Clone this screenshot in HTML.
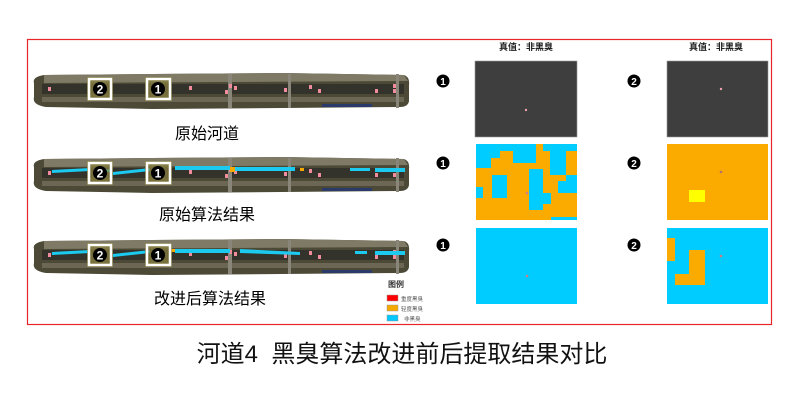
<!DOCTYPE html>
<html><head><meta charset="utf-8"><style>
html,body{margin:0;padding:0;background:#fff;width:800px;height:400px;overflow:hidden}
svg{display:block}
text{font-family:"Liberation Sans","Noto Sans CJK SC",sans-serif}
</style></head><body>
<svg width="800" height="400" viewBox="0 0 800 400" xmlns="http://www.w3.org/2000/svg">
<defs>
<g id="strip">
  <path d="M2,12 Q0,6 12,4 L120,3 L250,2 L372,4 Q378,6 377,14 L377,30 Q376,36 368,36 L250,37 L120,38 L14,36 Q0,34 2,26 Z" fill="#4c4a36"/>
  <path d="M12,4 L120,3 L250,2 L372,4 L376,10 L12,12 Z" fill="#7e7a66"/>
  <rect x="10" y="13" width="362" height="10" fill="#34332b"/>
  <rect x="10" y="26" width="362" height="5" fill="#6c6754"/>
  <rect x="196" y="3" width="4" height="34" fill="#8a8579"/>
  <rect x="256" y="3" width="3" height="34" fill="#8a8579"/>
  <rect x="364" y="3" width="3" height="34" fill="#8a8579"/>
  <rect x="290" y="33" width="50" height="3" fill="#2a3a6a"/>
  <g fill="#f08c9c">
    <rect x="16" y="16" width="3" height="4"/><rect x="157" y="15" width="3" height="4"/>
    <rect x="197" y="13" width="3" height="4"/><rect x="202" y="15" width="3" height="4"/>
    <rect x="193" y="19" width="3" height="4"/><rect x="252" y="17" width="3" height="4"/>
    <rect x="277" y="14" width="3" height="4"/><rect x="286" y="18" width="3" height="4"/>
    <rect x="343" y="18" width="3" height="4"/><rect x="361" y="13" width="3" height="4"/>
    <rect x="361" y="18" width="3" height="4"/>
  </g>
</g>
<g id="boxes">
  <rect x="55" y="6" width="26" height="24" fill="#8a8040" opacity="0.75"/>
  <rect x="57" y="8" width="22" height="20" fill="none" stroke="#fff" stroke-width="2.5"/>
  <rect x="113" y="6" width="27" height="24" fill="#8a8040" opacity="0.75"/>
  <rect x="115" y="8" width="23" height="20" fill="none" stroke="#fff" stroke-width="2.5"/>
  <circle cx="68" cy="18" r="7" fill="#000"/>
  <circle cx="126" cy="18" r="7" fill="#000"/>
  <text x="68" y="22.5" font-size="12" font-weight="bold" fill="#fff" text-anchor="middle">2</text>
  <text x="126" y="22.5" font-size="12" font-weight="bold" fill="#fff" text-anchor="middle">1</text>
</g>
</defs>

<rect x="27.5" y="39.5" width="744" height="285" fill="none" stroke="#e8262a" stroke-width="1.2"/>

<use href="#strip" x="32" y="71"/>
<use href="#boxes" x="32" y="71"/>
<text x="207" y="139" font-size="16" text-anchor="middle" fill="#000">原始河道</text>

<use href="#strip" x="32" y="155"/>
<g fill="#1ccaf0">
  <path d="M52,170 L90,168 L90,171 L52,173 Z"/>
  <rect x="102" y="169" width="8" height="3"/>
  <path d="M113,172 L150,168 L150,171 L113,175 Z"/>
  <rect x="175" y="166" width="55" height="4"/>
  <rect x="235" y="167" width="60" height="4"/>
  <rect x="350" y="168" width="20" height="3"/>
  <rect x="375" y="168" width="30" height="4"/>
</g>
<g fill="#f5a800"><rect x="230" y="167" width="5" height="5"/><rect x="300" y="168" width="4" height="3"/></g>
<use href="#boxes" x="32" y="155"/>
<text x="207" y="220" font-size="16" text-anchor="middle" fill="#000">原始算法结果</text>

<use href="#strip" x="32" y="237"/>
<g fill="#1ccaf0">
  <path d="M52,252 L90,250 L90,253 L52,255 Z"/>
  <path d="M113,254 L150,250 L150,253 L113,257 Z"/>
  <rect x="175" y="249" width="55" height="4"/>
  <path d="M240,249 L300,252 L300,255 L240,253 Z"/>
  <rect x="355" y="251" width="12" height="3"/>
  <rect x="375" y="251" width="30" height="4"/>
</g>
<g fill="#f5a800"><rect x="170" y="249" width="5" height="3"/></g>
<use href="#boxes" x="32" y="237"/>
<text x="210" y="304" font-size="16" text-anchor="middle" fill="#000">改进后算法结果</text>

<text x="396" y="287" font-size="8" font-weight="bold" text-anchor="middle" fill="#333">图例</text>
<rect x="387" y="295" width="11" height="6" fill="#f00" stroke="#999" stroke-width="0.5"/>
<rect x="387" y="305" width="11" height="6" fill="#f5a800" stroke="#999" stroke-width="0.5"/>
<rect x="387" y="315" width="11" height="6" fill="#00c8ff" stroke="#999" stroke-width="0.5"/>
<text x="401" y="301" font-size="5.5" fill="#555">重度黑臭</text>
<text x="401" y="311" font-size="5.5" fill="#555">轻度黑臭</text>
<text x="404" y="321" font-size="5.5" fill="#555">非黑臭</text>

<text x="526" y="50" font-size="9" font-weight="bold" text-anchor="middle" fill="#222">真值：非黑臭</text>
<text x="716" y="50" font-size="9" font-weight="bold" text-anchor="middle" fill="#222">真值：非黑臭</text>

<g fill="#000">
  <circle cx="443" cy="81" r="6.5"/><circle cx="443" cy="163" r="6.5"/><circle cx="443" cy="245" r="6.5"/>
  <circle cx="634" cy="81" r="6.5"/><circle cx="634" cy="163" r="6.5"/><circle cx="634" cy="245" r="6.5"/>
</g>
<g fill="#fff" font-size="10" font-weight="bold" text-anchor="middle">
  <text x="443" y="85">1</text><text x="443" y="167">1</text><text x="443" y="249">1</text>
  <text x="634" y="85">2</text><text x="634" y="167">2</text><text x="634" y="249">2</text>
</g>

<rect x="475" y="61" width="102" height="76" fill="#3e3e3e" stroke="#999" stroke-width="0.6"/>
<rect x="667" y="61" width="101" height="76" fill="#3e3e3e" stroke="#999" stroke-width="0.6"/>
<circle cx="526" cy="110" r="1.2" fill="#f0a0b0"/>
<circle cx="721" cy="89" r="1.2" fill="#f0a0b0"/>

<rect x="476" y="144" width="101" height="76" fill="#fbab00"/>
<g fill="#00ccff">
  <rect x="476" y="144" width="60" height="7"/>
  <rect x="476" y="151" width="24" height="7"/>
  <rect x="476" y="158" width="15" height="10"/>
  <rect x="513" y="151" width="23" height="12"/>
  <rect x="543" y="144" width="34" height="7"/>
  <rect x="550" y="151" width="16" height="24"/>
  <rect x="492" y="175" width="15" height="23"/>
  <rect x="529" y="169" width="14" height="41"/>
  <rect x="543" y="193" width="8" height="11"/>
  <rect x="476" y="187" width="7" height="11"/>
  <rect x="558" y="181" width="19" height="12"/>
  <rect x="566" y="175" width="11" height="6"/>
  <rect x="551" y="217" width="26" height="3"/>
</g>
<circle cx="527" cy="193" r="1.3" fill="#d08080"/>

<rect x="667" y="144" width="101" height="76" fill="#fbab00"/>
<rect x="689" y="190" width="16" height="12" fill="#ffff00"/>
<circle cx="721" cy="172" r="1.3" fill="#b07070"/>

<rect x="476" y="228" width="101" height="76" fill="#00ccff"/>
<circle cx="527" cy="276" r="1.3" fill="#d08080"/>
<rect x="667" y="228" width="101" height="76" fill="#00ccff"/>
<g fill="#fbab00">
  <rect x="667" y="238" width="8" height="23"/>
  <rect x="689" y="250" width="16" height="35"/>
  <rect x="675" y="274" width="14" height="11"/>
</g>
<circle cx="721" cy="256" r="1.3" fill="#d08080"/>

<text x="402" y="362" font-size="24" text-anchor="middle" fill="#111" xml:space="preserve">河道4  黑臭算法改进前后提取结果对比</text>
</svg>
</body></html>
